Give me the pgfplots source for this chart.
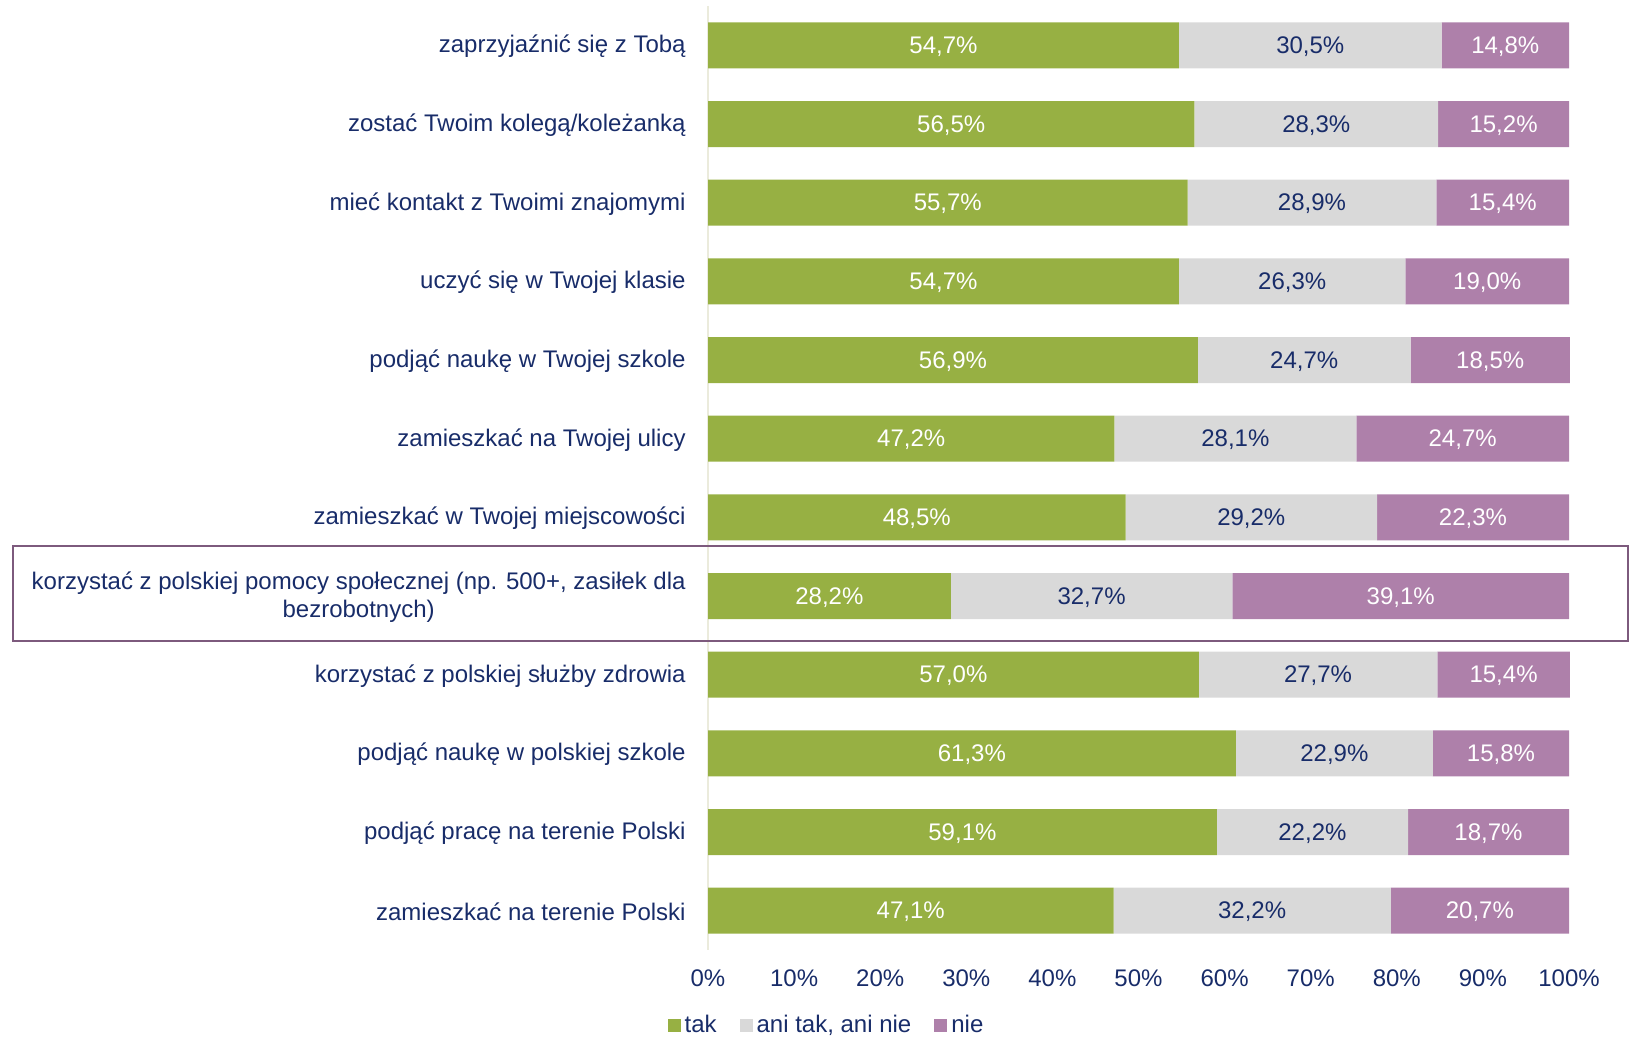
\documentclass[border=0pt]{standalone}
\usepackage{fontspec}
\setmainfont{Liberation Sans}
\usepackage{pgfplots}
\usepackage{pgfplotstable}
\pgfplotsset{compat=1.18}
\definecolor{cgreen}{RGB}{151,176,67}
\definecolor{cgrey}{RGB}{217,217,217}
\definecolor{cpurple}{RGB}{174,128,170}
\definecolor{navy}{RGB}{24,44,105}
\definecolor{axcol}{RGB}{235,235,220}
\definecolor{boxcol}{RGB}{125,90,125}
\pgfplotstableread{
idx tak ani nie
0 54.7 30.5 14.8
1 56.5 28.3 15.2
2 55.7 28.9 15.4
3 54.7 26.3 19.0
4 56.9 24.7 18.5
5 47.2 28.1 24.7
6 48.5 29.2 22.3
7 28.2 32.7 39.1
8 57.0 27.7 15.4
9 61.3 22.9 15.8
10 59.1 22.2 18.7
11 47.1 32.2 20.7
}\data
\begin{document}
\begin{tikzpicture}
\path[use as bounding box] (0,0) rectangle (816pt,519.5pt);
\begin{axis}[
  at={(354pt,44.5pt)}, anchor=south west,
  scale only axis, width=430.5pt, height=472pt,
  xbar stacked, bar width=23pt,
  xmin=0, xmax=100, ymin=-0.5, ymax=11.5,
  y dir=reverse,
  clip=false,
  /pgf/number format/assume math mode=true,
  axis y line*=left, axis x line*=bottom,
  x axis line style={draw=none},
  y axis line style={draw=axcol, line width=1pt},
  major tick length=0pt,
  xtick={0,10,...,100},
  xticklabel={\pgfmathprintnumber{\tick}\%},
  xticklabel style={anchor=base, inner sep=0pt, yshift=-18.3pt, text=navy, font=\fontsize{12}{14}\selectfont},
  ytick={0,...,11},
  yticklabels={
    zaprzyjaźnić się z Tobą,
    zostać Twoim kolegą/koleżanką,
    mieć kontakt z Twoimi znajomymi,
    uczyć się w Twojej klasie,
    podjąć naukę w Twojej szkole,
    zamieszkać na Twojej ulicy,
    zamieszkać w Twojej miejscowości,
    {korzystać z polskiej pomocy społecznej (np. 500+, zasiłek dla\\bezrobotnych)},
    korzystać z polskiej służby zdrowia,
    podjąć naukę w polskiej szkole,
    podjąć pracę na terenie Polski,
    zamieszkać na terenie Polski},
  yticklabel style={anchor=east, inner sep=0pt, xshift=-11pt, yshift=-0.5pt, align=center, text=navy, font=\fontsize{12}{14}\selectfont},
  point meta=explicit,
  nodes near coords={\pgfmathprintnumber[fixed,fixed zerofill,precision=1,use comma]{\pgfplotspointmeta}\%},
  every node near coord/.append style={anchor=center, inner sep=0pt, yshift=-0.7pt, font=\fontsize{12}{14}\selectfont},
  legend columns=3,
  legend style={at={(0.1388,-0.0795)}, anchor=center, draw=none, fill=none,
    inner sep=1pt,
    font=\fontsize{12}{14}\selectfont, text=navy,
    /tikz/every even column/.append style={column sep=9.5pt}},
  legend image code/.code={\fill[#1] (0pt,-3.25pt) rectangle (6.5pt,3.25pt);},
]
\addplot[fill=cgreen, draw=none,
  every node near coord/.append style={text=white}]
  table[x=tak, y=idx, meta=tak]{\data};
\addlegendentry{tak}
\addplot[fill=cgrey, draw=none,
  every node near coord/.append style={text=navy}]
  table[x=ani, y=idx, meta=ani]{\data};
\addlegendentry{ani tak, ani nie}
\addplot[fill=cpurple, draw=none,
  every node near coord/.append style={text=white}]
  table[x=nie, y=idx, meta=nie]{\data};
\addlegendentry{nie}
\draw[boxcol, line width=1pt] (axis cs:-80.7,6.365) rectangle (axis cs:106.85,7.572);
\end{axis}
\end{tikzpicture}
\end{document}
